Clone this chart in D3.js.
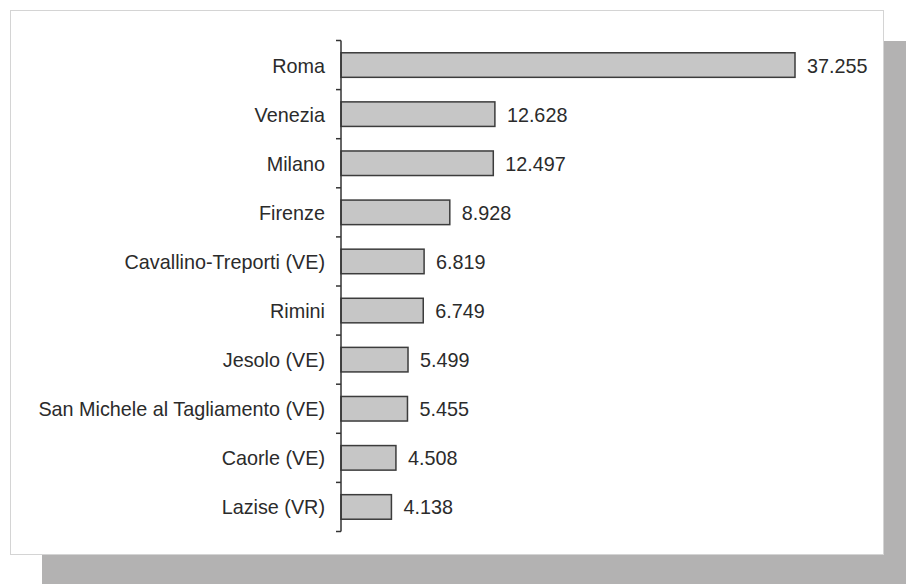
<!DOCTYPE html>
<html>
<head>
<meta charset="utf-8">
<script src="https://cdn.jsdelivr.net/npm/d3@7"></script>
<style>
    body { margin: 0; background: #fff; }
    svg { display: block; }
    text { font-family: "Liberation Sans", Arial, sans-serif; fill: #2b2b2b; }
</style>
</head>
<body>
<svg id="chart"></svg>
<script>
// values as printed on the bars
const categories = ["Roma", "Venezia", "Milano", "Firenze", "Cavallino-Treporti (VE)", "Rimini",
    "Jesolo (VE)", "San Michele al Tagliamento (VE)", "Caorle (VE)", "Lazise (VR)"];
const values = [37.255, 12.628, 12.497, 8.928, 6.819, 6.749, 5.499, 5.455, 4.508, 4.138];
const valueLabels = ["37.255", "12.628", "12.497", "8.928", "6.819", "6.749", "5.499", "5.455", "4.508", "4.138"];

const width = 906, height = 584;
const margin = { top: 40.5, left: 341, right: 111, bottom: 52.5 };
const fontSize = 19.8;

const svg = d3.select("#chart")
    .attr("width", width)
    .attr("height", height);

// drop shadow and the white panel
svg.append("rect")
    .attr("x", 42).attr("y", 41)
    .attr("width", width - 42).attr("height", height - 41)
    .attr("fill", "#b3b2b2");
svg.append("rect")
    .attr("x", 10.5).attr("y", 10.5)
    .attr("width", 873).attr("height", 544)
    .attr("fill", "#fff")
    .attr("stroke", "#d4d4d4");

const y = d3.scaleBand()
    .domain(categories)
    .range([margin.top, height - margin.bottom])
    .paddingInner(0.5)
    .paddingOuter(0.25);

const x = d3.scaleLinear()
    .domain([0, d3.max(values)])
    .range([margin.left, width - margin.right]);

const data = categories.map((c, i) => ({ name: c, value: values[i], label: valueLabels[i] }));

// bars
svg.append("g")
    .selectAll("rect")
    .data(data)
    .join("rect")
    .attr("x", x(0))
    .attr("y", d => y(d.name))
    .attr("width", d => x(d.value) - x(0))
    .attr("height", y.bandwidth())
    .attr("fill", "#c6c6c6")
    .attr("stroke", "#3c3c3c")
    .attr("stroke-width", 1.5);

// value labels
svg.append("g")
    .selectAll("text")
    .data(data)
    .join("text")
    .attr("x", d => x(d.value) + 12)
    .attr("y", d => y(d.name) + y.bandwidth() / 2)
    .attr("dy", "0.38em")
    .attr("font-size", fontSize)
    .text(d => d.label);

// category axis, labels only
const axis = svg.append("g")
    .attr("transform", `translate(${x(0)},0)`)
    .call(d3.axisLeft(y).tickSize(0).tickPadding(16));
axis.select(".domain").remove();
axis.selectAll("text")
    .attr("font-size", fontSize)
    .attr("dy", "0.38em")
    .attr("font-family", "Liberation Sans, Arial, sans-serif")
    .attr("fill", "#2b2b2b");

// axis line with tick marks between the categories
const [r0, r1] = y.range();
const bounds = d3.range(categories.length + 1).map(i => r0 + i * y.step());
const axisG = svg.append("g").attr("stroke", "#333").attr("stroke-width", 1.5);
axisG.append("line")
    .attr("x1", x(0)).attr("x2", x(0))
    .attr("y1", r0).attr("y2", r1);
axisG.selectAll(".tick-mark")
    .data(bounds)
    .join("line")
    .attr("class", "tick-mark")
    .attr("x1", x(0) - 5).attr("x2", x(0))
    .attr("y1", d => d).attr("y2", d => d);
</script>
</body>
</html>
